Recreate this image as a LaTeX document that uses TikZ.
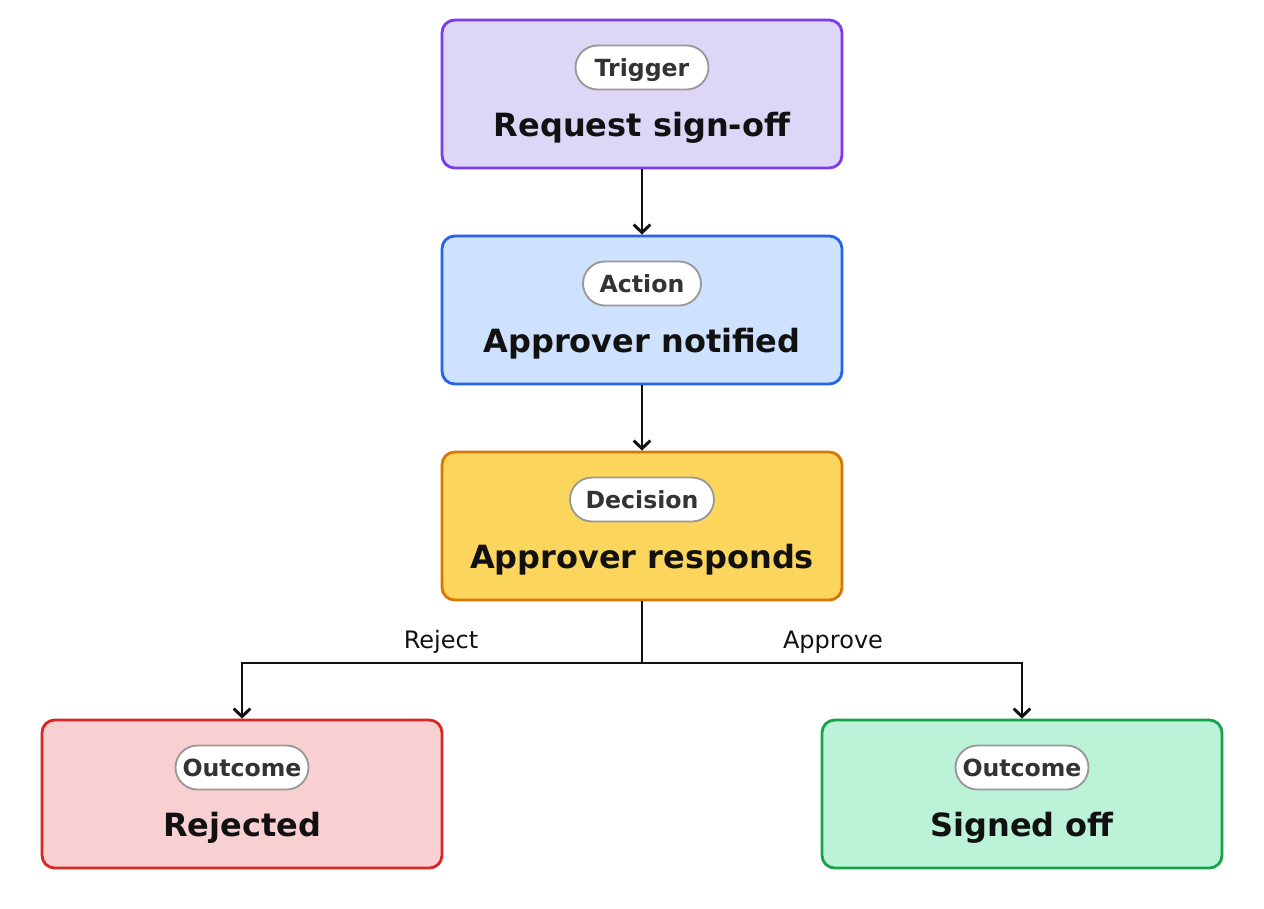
\documentclass[tikz,border=0pt]{standalone}
\usepackage{fontspec}
\setmainfont{DejaVu Sans}
\usetikzlibrary{arrows.meta}
\definecolor{trigF}{HTML}{DDD6F7}\definecolor{trigD}{HTML}{7C3AED}
\definecolor{actF}{HTML}{CFE2FD}\definecolor{actD}{HTML}{2563EB}
\definecolor{decF}{HTML}{FCD55C}\definecolor{decD}{HTML}{D97706}
\definecolor{rejF}{HTML}{F9D0D2}\definecolor{rejD}{HTML}{DC2626}
\definecolor{sigF}{HTML}{BBF2D8}\definecolor{sigD}{HTML}{16A34A}
\definecolor{pillD}{HTML}{999999}
\definecolor{titleC}{HTML}{111111}
\definecolor{pillC}{HTML}{333333}
\tikzset{
  card/.style={draw=#1, rectangle, rounded corners=9.5pt, line width=2.1pt,
    minimum width=300pt, minimum height=111pt, inner sep=0pt},
  pill/.style={draw=pillD, fill=white, rounded corners=16.5pt, line width=1.4pt,
    minimum height=33pt, minimum width=#1, inner sep=0pt, text=pillC,
    text height=12.9pt, text depth=0pt,
    font=\fontsize{17.7pt}{20pt}\selectfont\bfseries},
  ttl/.style={text=titleC, inner sep=0pt, anchor=base, font=\fontsize{24pt}{28pt}\selectfont\bfseries},
  lbl/.style={text=titleC, inner sep=0pt, anchor=base, font=\fontsize{18pt}{21pt}\selectfont},
  conn/.style={draw=titleC, line width=2.2pt},
  arr/.style={conn, -{Straight Barb[length=6pt,width=12.5pt,line width=2.2pt]}}
}
\begin{document}
\begin{tikzpicture}[x=0.75pt,y=-0.75pt]
\useasboundingbox[fill=white] (0,0) rectangle (1264,908);
% cards
\node[card=trigD, fill=trigF] (t) at (642,94) {};
\node[card=actD, fill=actF] (a) at (642,310) {};
\node[card=decD, fill=decF] (d) at (642,526) {};
\node[card=rejD, fill=rejF] (r) at (242,794) {};
\node[card=sigD, fill=sigF] (s) at (1022,794) {};
% pills
\node[pill=99.75pt] (tp) at (642,67.5) {Trigger};
\node[pill=88.5pt] (ap) at (642,283.5) {Action};
\node[pill=108pt] (dp) at (642,499.5) {Decision};
\node[pill=99.75pt] (rp) at (242,767.5) {Outcome};
\node[pill=99.75pt] (sp) at (1022,767.5) {Outcome};
% titles
\node[ttl] (tt) at (642,136) {Request sign-off};
\node[ttl] (at) at (642,352) {Approver notified};
\node[ttl] (dt) at (642,568) {Approver responds};
\node[ttl] (rt) at (242,836) {Rejected};
\node[ttl] (st) at (1022,836) {Signed off};
% connectors
\draw[arr] (t.south) -- (a.north);
\draw[arr] (a.south) -- (d.north);
\coordinate (j) at (642,663);
\draw[conn] (d.south) -- (j);
\draw[arr] (j) -| (r.north);
\draw[arr] (j) -| (s.north);
\node[lbl] (lr) at (441,648) {Reject};
\node[lbl] (la) at (833,648) {Approve};
\end{tikzpicture}
\end{document}
